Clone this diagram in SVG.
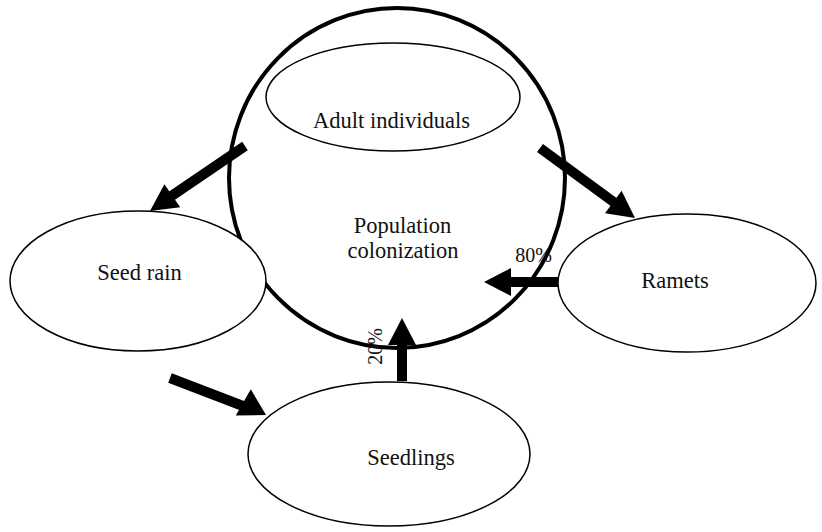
<svg xmlns="http://www.w3.org/2000/svg" width="822" height="532" viewBox="0 0 822 532">
<style>
.n{fill:#fff;stroke:#000;stroke-width:1.5}
.big{fill:#fff;stroke:#000;stroke-width:4}
.t{font-family:'Liberation Serif','Times New Roman','DejaVu Serif',serif;font-size:22.5px;fill:#111;text-anchor:middle}
.p{font-size:20px}
.c{stroke:#000;stroke-width:10;fill:none}
.h{fill:#000}
</style>
<rect width="822" height="532" fill="#fff"/>
<g id="population"><ellipse class="big" cx="397" cy="178" rx="168" ry="170"/>
<text class="t" x="402.5" y="233">Population</text><text class="t" x="403" y="258">colonization</text></g>
<g id="adults"><ellipse class="n" cx="393" cy="97" rx="127" ry="54"/><text class="t" x="391.5" y="128">Adult individuals</text></g>
<g id="seed-rain"><ellipse class="n" cx="138" cy="281" rx="128" ry="70"/><text class="t" x="139.5" y="280">Seed rain</text></g>
<g id="ramets"><ellipse class="n" cx="687" cy="283" rx="129" ry="69"/><text class="t" x="675" y="288">Ramets</text></g>
<g id="seedlings"><ellipse class="n" cx="389" cy="454" rx="141" ry="72"/><text class="t" x="411" y="465">Seedlings</text></g>
<g id="connectors">
<line class="c" x1="245" y1="146" x2="170" y2="197"/>
<polygon class="h" points="150,211 180.2,207.2 164.4,184.2"/>
<line class="c" x1="540" y1="148" x2="615" y2="203"/>
<polygon class="h" points="635,218 621.6,190.7 605,213.3"/>
<line class="c" x1="558" y1="282" x2="509" y2="282"/>
<polygon class="h" points="484,282 511,268 511,296"/>
<line class="c" x1="402" y1="381" x2="402" y2="343"/>
<polygon class="h" points="402,318 388,345 416,345"/>
<line class="c" x1="170" y1="378" x2="243" y2="406"/>
<polygon class="h" points="266,415 250.8,389.2 235.8,415.4"/>
<text class="t p" x="533.5" y="262">80%</text>
<text class="t p" transform="translate(382,346.5) rotate(-90)">20%</text>
</g>
</svg>
